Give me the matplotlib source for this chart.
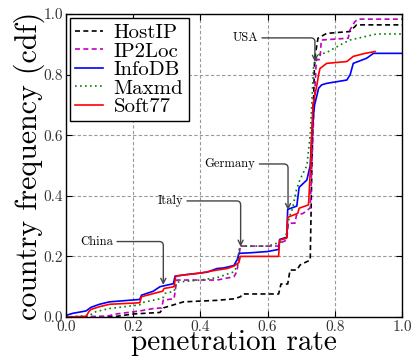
import matplotlib
matplotlib.use('Agg')
import matplotlib.pyplot as plt

plt.rcParams['font.family'] = 'cmr10'
plt.rcParams['axes.formatter.use_mathtext'] = True
plt.rcParams['mathtext.fontset'] = 'cm'

# penetration rate (x) vs cumulative country frequency (y)
hostip_x = [0.0, 0.15, 0.2, 0.28, 0.29, 0.32, 0.35, 0.45, 0.5, 0.52, 0.525, 0.633, 0.64, 0.66,
            0.667, 0.687, 0.697, 0.727, 0.732, 0.74, 0.75, 0.776, 0.845, 0.865, 1.0]
hostip_y = [0.0, 0.002, 0.01, 0.015, 0.03, 0.04, 0.05, 0.055, 0.06, 0.067, 0.076, 0.076, 0.109, 0.109,
            0.155, 0.155, 0.172, 0.188, 0.5, 0.85, 0.92, 0.936, 0.942, 0.964, 0.964]

ip2loc_x = [0.0, 0.12, 0.15, 0.22, 0.26, 0.285, 0.29, 0.322, 0.33, 0.45, 0.5, 0.509, 0.519, 0.633,
            0.636, 0.657, 0.662, 0.682, 0.686, 0.706, 0.727, 0.735, 0.745, 0.756, 0.76, 0.84,
            0.845, 0.86, 0.87, 1.0]
ip2loc_y = [0.0, 0.002, 0.01, 0.02, 0.028, 0.03, 0.056, 0.06, 0.122, 0.122, 0.133, 0.15, 0.234, 0.234,
            0.243, 0.254, 0.309, 0.31, 0.336, 0.342, 0.36, 0.6, 0.848, 0.85, 0.914, 0.92,
            0.947, 0.975, 0.983, 0.983]

infodb_x = [0.0, 0.02, 0.06, 0.075, 0.1, 0.13, 0.22, 0.225, 0.26, 0.28, 0.3, 0.32, 0.325, 0.36,
            0.4, 0.42, 0.45, 0.47, 0.5, 0.51, 0.515, 0.55, 0.6, 0.633, 0.636, 0.657, 0.66,
            0.687, 0.694, 0.717, 0.727, 0.733, 0.74, 0.746, 0.752, 0.761, 0.776, 0.836, 0.846,
            0.855, 0.895, 0.915, 1.0]
infodb_y = [0.005, 0.012, 0.02, 0.032, 0.042, 0.05, 0.058, 0.072, 0.085, 0.1, 0.105, 0.11, 0.135, 0.14,
            0.145, 0.148, 0.16, 0.162, 0.17, 0.19, 0.21, 0.212, 0.216, 0.223, 0.256, 0.263, 0.355,
            0.366, 0.428, 0.452, 0.5, 0.63, 0.7, 0.727, 0.755, 0.766, 0.771, 0.782, 0.8,
            0.837, 0.854, 0.87, 0.87]

maxmd_x = [0.0, 0.07, 0.09, 0.13, 0.22, 0.225, 0.28, 0.29, 0.295, 0.322, 0.33, 0.4, 0.45, 0.5,
           0.51, 0.517, 0.6, 0.633, 0.645, 0.655, 0.665, 0.675, 0.686, 0.696, 0.717, 0.727,
           0.737, 0.75, 0.776, 0.82, 0.845, 0.925, 1.0]
maxmd_y = [0.0, 0.005, 0.018, 0.028, 0.04, 0.047, 0.06, 0.065, 0.078, 0.085, 0.115, 0.122, 0.13, 0.149,
           0.17, 0.234, 0.234, 0.245, 0.25, 0.27, 0.33, 0.36, 0.42, 0.452, 0.5, 0.6,
           0.826, 0.865, 0.873, 0.9, 0.914, 0.934, 0.934]

soft77_x = [0.0, 0.06, 0.07, 0.075, 0.1, 0.13, 0.22, 0.225, 0.28, 0.288, 0.292, 0.322, 0.327, 0.36,
            0.4, 0.45, 0.48, 0.5, 0.515, 0.519, 0.633, 0.636, 0.657, 0.66, 0.69, 0.694, 0.722,
            0.728, 0.735, 0.747, 0.752, 0.756, 0.776, 0.836, 0.855, 0.89, 0.92]
soft77_y = [0.0, 0.002, 0.02, 0.025, 0.034, 0.042, 0.047, 0.067, 0.083, 0.085, 0.094, 0.1, 0.135, 0.14,
            0.145, 0.155, 0.16, 0.168, 0.18, 0.2, 0.2, 0.254, 0.26, 0.329, 0.342, 0.359, 0.37,
            0.5, 0.7, 0.766, 0.8, 0.82, 0.837, 0.843, 0.86, 0.87, 0.876]

# (label, text position, arrow target)
annotations = [
    ('USA', (0.533, 0.921), (0.741, 0.842)),
    ('Germany', (0.488, 0.505), (0.661, 0.353)),
    ('Italy', (0.31, 0.383), (0.52, 0.232)),
    ('China', (0.091, 0.249), (0.29, 0.106)),
]

fig = plt.figure(figsize=(4.14, 3.58), dpi=100)
ax = fig.add_axes([0.159, 0.1145, 0.812, 0.8465])

ax.plot(hostip_x, hostip_y, color='k', ls=(0, (3, 2)), lw=1.2, label='HostIP')
ax.plot(ip2loc_x, ip2loc_y, color='m', ls=(0, (3, 2)), lw=1.2, label='IP2Loc')
ax.plot(infodb_x, infodb_y, color='b', ls='-', lw=1.2, label='InfoDB')
ax.plot(maxmd_x, maxmd_y, color='g', ls=(0, (1, 2)), lw=1.2, label='Maxmd')
ax.plot(soft77_x, soft77_y, color='r', ls='-', lw=1.2, label='Soft77')

for name, txt, tip in annotations:
    ax.annotate(name, xy=tip, xytext=txt, fontsize=9, ha='center', va='center',
                arrowprops=dict(arrowstyle='->', color='#444444', lw=1.0,
                                connectionstyle='angle,angleA=0,angleB=90,rad=4',
                                shrinkA=1, shrinkB=0))

ax.set_xlim(0, 1)
ax.set_ylim(0, 1)
ax.set_xticks([0.0, 0.2, 0.4, 0.6, 0.8, 1.0])
ax.set_yticks([0.0, 0.2, 0.4, 0.6, 0.8, 1.0])
ax.xaxis.set_major_formatter(matplotlib.ticker.FormatStrFormatter('%.1f'))
ax.yaxis.set_major_formatter(matplotlib.ticker.FormatStrFormatter('%.1f'))
ax.tick_params(direction='in', top=True, right=True, length=4, labelsize=11,
               labelcolor='#333333', pad=2)
ax.grid(True, color='#999999', ls=(0, (3, 2)), lw=0.8)
for s in ax.spines.values():
    s.set_linewidth(1.0)

ax.set_xlabel('penetration rate', fontsize=21, labelpad=-3)
ax.set_ylabel('country frequency (cdf)', fontsize=21.5, labelpad=-1)

leg = ax.legend(loc='upper left', fontsize=15, fancybox=False, framealpha=1,
                edgecolor='k', handlelength=1.35, labelspacing=0.0,
                borderaxespad=0.2, borderpad=0.25, handletextpad=0.5)
leg.get_frame().set_linewidth(1.0)

fig.savefig('out.png', dpi=100)
